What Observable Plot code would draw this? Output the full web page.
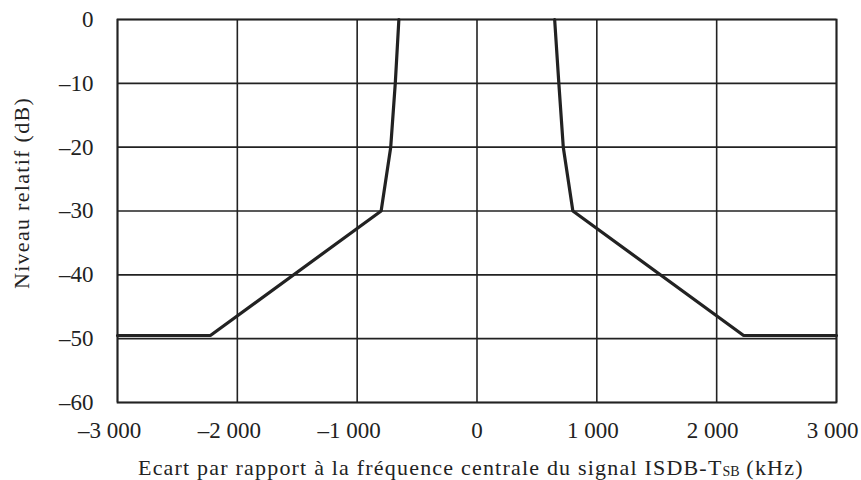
<!DOCTYPE html>
<html>
<head>
<meta charset="utf-8">
<script src="https://cdn.jsdelivr.net/npm/d3@7"></script>
<script src="https://cdn.jsdelivr.net/npm/@observablehq/plot@0.6"></script>
<style>
  body { margin: 0; background: #fff; }
  #chart svg { display: block; }
</style>
</head>
<body>
<div id="chart"></div>
<script>
// Data
const freqLeft = [-3000, -2225, -800, -720, -682, -652];
const levelLeft = [-49.5, -49.5, -30, -20, -10, 0];
const freqRight = [648, 683, 720, 800, 2225, 3000];
const levelRight = [0, -10, -20, -30, -49.5, -49.5];
const xTicks = [-3000, -2000, -1000, 0, 1000, 2000, 3000];
const yTicks = [0, -10, -20, -30, -40, -50, -60];

const left = freqLeft.map((f, i) => ({f, l: levelLeft[i]}));
const right = freqRight.map((f, i) => ({f, l: levelRight[i]}));

const fmtX = d => {
  const s = d3.format(",")(Math.abs(d)).replace(/,/g, " ");
  return (d < 0 ? "\u2013" : "") + s;
};
const fmtY = d => (d < 0 ? "\u2013" : "") + Math.abs(d);

const font = "'Liberation Serif', 'Times New Roman', serif";
const ink = "#222";
const xAxisOpts = { tickSize: 0, tickPadding: 19, tickFormat: fmtX, fontSize: 23 };

const chart = Plot.plot({
  width: 861,
  height: 480,
  marginLeft: 117,
  marginRight: 25,
  marginTop: 19,
  marginBottom: 78,
  style: { fontFamily: font, fontSize: "23px", color: ink, background: "#fff" },
  x: { domain: [-3000, 3000], label: null },
  y: { domain: [-60, 0], label: null },
  marks: [
    Plot.gridX(xTicks, { stroke: ink, strokeOpacity: 1, strokeWidth: 1.6 }),
    Plot.gridY(yTicks, { stroke: ink, strokeOpacity: 1, strokeWidth: 1.6 }),
    Plot.frame({ stroke: ink, strokeWidth: 1.8 }),
    Plot.axisX(xTicks.filter(d => d < 0), { ...xAxisOpts, dx: -8 }),
    Plot.axisX(xTicks.filter(d => d === 0), { ...xAxisOpts }),
    Plot.axisX(xTicks.filter(d => d > 0), { ...xAxisOpts, dx: -4 }),
    Plot.axisY(yTicks, { tickSize: 0, tickPadding: 24, tickFormat: fmtY, fontSize: 23 }),
    Plot.line(left, { x: "f", y: "l", stroke: ink, strokeWidth: 3.2, strokeLinejoin: "miter" }),
    Plot.line(right, { x: "f", y: "l", stroke: ink, strokeWidth: 3.2, strokeLinejoin: "miter" })
  ]
});

const svg = d3.select(chart.tagName.toLowerCase() === "svg" ? chart : chart.querySelector("svg"));

// Y axis title
svg.append("text")
  .attr("transform", "translate(29,193) rotate(-90)")
  .attr("text-anchor", "middle")
  .attr("font-family", font)
  .attr("font-size", 22)
  .attr("letter-spacing", "1.3px")
  .attr("fill", ink)
  .text("Niveau relatif (dB)");

// X axis title with subscript
const xt = svg.append("text")
  .attr("x", 138)
  .attr("y", 475)
  .attr("text-anchor", "start")
  .attr("font-family", font)
  .attr("font-size", 22)
  .attr("letter-spacing", "1.2px")
  .attr("fill", ink);
xt.append("tspan").text("Ecart par rapport \u00e0 la fr\u00e9quence centrale du signal ISDB-T");
xt.append("tspan").attr("font-size", 14).attr("dy", 1).attr("letter-spacing", "0px").text("SB");
xt.append("tspan").attr("dy", -1).text(" (kHz)");

document.getElementById("chart").appendChild(chart);
</script>
</body>
</html>
